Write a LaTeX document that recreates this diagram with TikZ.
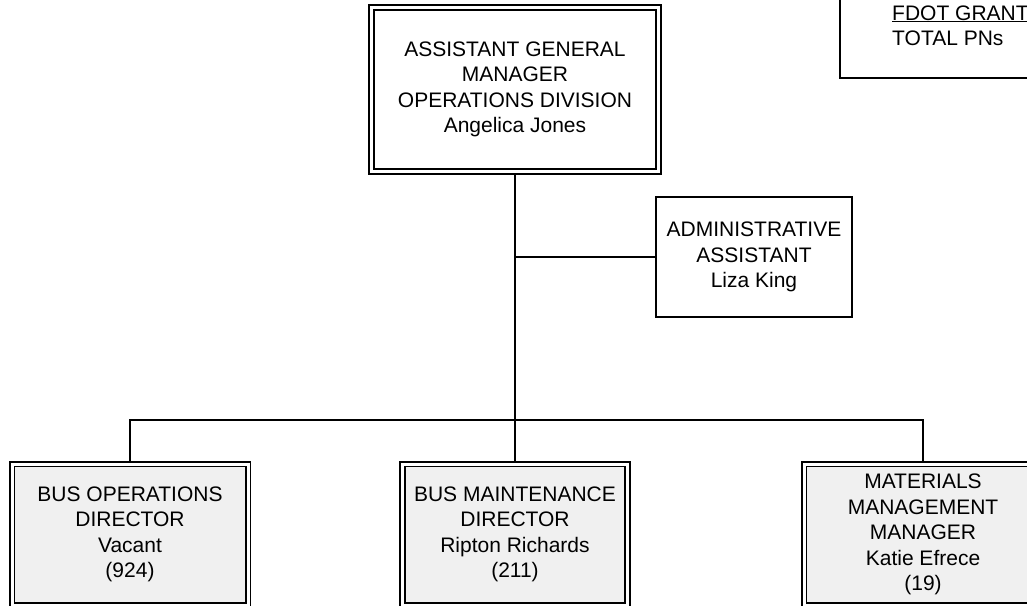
\documentclass[tikz,border=0pt]{standalone}
\usepackage{fontspec}
\setmainfont{Liberation Sans}
\definecolor{boxgrey}{HTML}{F0F0F0}
\begin{document}
\begin{tikzpicture}[x=1pt,y=-1pt,
  txt/.style={font=\fontsize{21}{25.5}\selectfont, align=center, inner sep=0pt},
  dbl/.style={txt, rectangle, draw, line width=1.6pt, double=white, double distance=3pt, outer sep=3.1pt},
  greybox/.style={dbl, fill=boxgrey},
  singlebox/.style={txt, rectangle, draw, line width=1.8pt, outer sep=0.9pt},
  conn/.style={line width=1.6pt}]
\useasboundingbox (0,0) rectangle (1027,605);
\clip (0,0) rectangle (1027,605);

\node[dbl, minimum width=287pt, minimum height=164pt] (agm) at (515,89.5)
  {ASSISTANT GENERAL\\MANAGER\\OPERATIONS DIVISION\\Angelica Jones};
\node[singlebox, minimum width=196pt, minimum height=120pt] (admin) at (754,257)
  {ADMINISTRATIVE\\ASSISTANT\\Liza King};
\node[greybox, minimum width=236pt, minimum height=141pt] (ops) at (130,534.5)
  {BUS OPERATIONS\\DIRECTOR\\Vacant\\(924)};
\node[greybox, minimum width=225pt, minimum height=141pt] (mnt) at (515,534.5)
  {BUS MAINTENANCE\\DIRECTOR\\Ripton Richards\\(211)};
\node[greybox, minimum width=238pt, minimum height=141pt] (mat) at (923,534.5)
  {MATERIALS\\MANAGEMENT\\MANAGER\\Katie Efrece\\(19)};

\node[singlebox, minimum width=200pt, minimum height=88pt] (fdotbox) at (940,34) {};
\node[txt, anchor=base west] (fdot1) at (892,20) {\underline{FDOT GRANT}};
\node[txt, anchor=base west] (fdot2) at (892,45) {TOTAL PNs};

\coordinate (j) at (515,420);
\draw[conn] (agm.south) -- (mnt.north);
\draw[conn] (ops.north) |- (j) -| (mat.north);
\draw[conn] (agm.south |- admin.west) -- (admin.west);
\end{tikzpicture}
\end{document}
